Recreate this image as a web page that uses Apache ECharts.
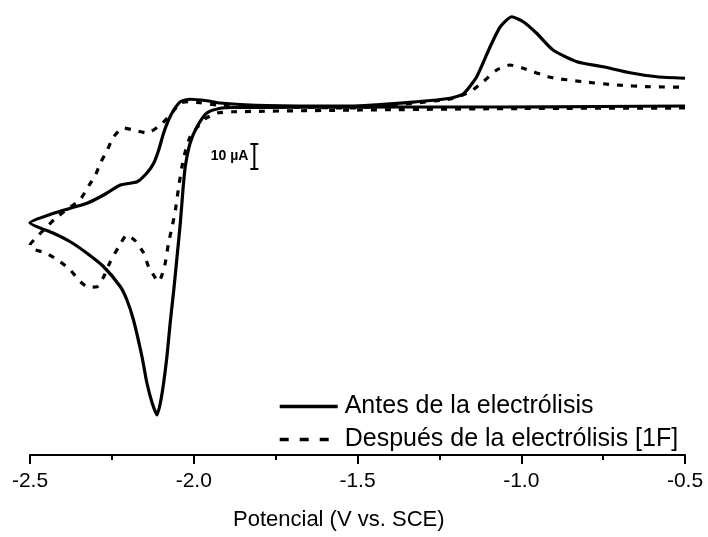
<!DOCTYPE html>
<html>
<head>
<meta charset="utf-8">
<script src="https://cdn.jsdelivr.net/npm/echarts@6/dist/echarts.min.js"></script>
<style>
html,body{margin:0;padding:0;background:#fff;}
#c{width:708px;height:537px;}
</style>
</head>
<body>
<div id="c"></div>
<script>
// Potential (V vs. SCE) and current (µA, 0 = baseline), in sweep order
const antesV = [-0.5,-0.76,-1.065,-1.37,-1.675,-1.879,-1.919,-1.96,-1.99,-2.011,-2.026,-2.033,-2.041,-2.051,-2.061,-2.072,-2.082,-2.092,-2.102,-2.112,-2.127,-2.143,-2.158,-2.184,-2.204,-2.224,-2.275,-2.326,-2.377,-2.428,-2.5,
  -2.428,-2.377,-2.326,-2.275,-2.224,-2.173,-2.143,-2.122,-2.107,-2.092,-2.077,-2.061,-2.041,-2.011,-1.96,-1.919,-1.776,-1.522,-1.319,-1.217,-1.177,-1.136,-1.095,-1.064,-1.029,-0.994,-0.953,-0.903,-0.83,-0.75,-0.668,-0.586,-0.5];
const antesI = [-0.4,-0.6,-0.8,-0.8,-0.9,-1.0,-1.3,-3.2,-8.7,-15.2,-24.7,-34,-47.2,-60.7,-74,-87.2,-100.7,-111.2,-119.2,-124,-119.2,-111.2,-100.7,-86,-78,-72.7,-64.7,-59.3,-54.7,-51.3,-47.1,
  -43.3,-41.3,-39.3,-36,-32,-30.7,-27.2,-23.2,-18,-11.2,-6,-2,1.3,2.3,1.7,0.8,-0.2,-0.4,1.3,2.7,4.4,11.3,23.3,31.3,35.3,33.3,28.7,22,17.3,15.3,12.9,11.3,10.7];

const despuesV = [-0.5,-1.0,-1.492,-1.879,-1.928,-1.965,-1.99,-2.011,-2.026,-2.036,-2.046,-2.056,-2.066,-2.077,-2.087,-2.097,-2.107,-2.117,-2.138,-2.153,-2.178,-2.204,-2.229,-2.255,-2.275,-2.295,-2.321,-2.346,-2.377,-2.412,-2.453,-2.489,-2.5,
  -2.488,-2.422,-2.382,-2.346,-2.321,-2.3,-2.285,-2.264,-2.245,-2.215,-2.184,-2.142,-2.102,-2.072,-2.041,-2.017,-1.98,-1.928,-1.522,-1.217,-1.156,-1.116,-1.075,-1.035,-0.994,-0.912,-0.811,-0.708,-0.607,-0.5];
const despuesI = [-1.2,-1.4,-2,-2.7,-3.2,-5.5,-9,-12.7,-18.7,-24.7,-32.7,-42,-48.7,-55.2,-63.2,-68,-70.7,-69.2,-64.7,-59.2,-54.4,-52,-56.7,-62.7,-68.7,-72.7,-72.9,-70.7,-66,-62.3,-59.1,-57.7,-56,
  -54,-45.3,-41.3,-37.7,-32.4,-28,-23.2,-18,-12.8,-9.2,-10,-11.2,-8,-4,0.8,1.3,0.9,0,-1.2,2.4,5.3,9.3,14,16,14.7,11.1,9.3,8,7.3,7.1];

const seriesNames = ['Antes de la electrólisis', 'Después de la electrólisis [1F]'];
const xTicks = [-2.5, -2.0, -1.5, -1.0, -0.5];
const scaleBar = {v: -1.815, from: -15.6, to: -25.6, label: '10 µA'};

const zip = (a, b) => a.map((v, i) => [v, b[i]]);

const chart = echarts.init(document.getElementById('c'));
chart.setOption({
  animation: false,
  backgroundColor: '#fff',
  grid: {left: 30, right: 23, top: 5, bottom: 82, containLabel: false},
  xAxis: {
    type: 'value', min: xTicks[0], max: xTicks[xTicks.length - 1], interval: 0.5,
    axisLine: {show: true, onZero: false, lineStyle: {color: '#000', width: 2}},
    axisTick: {show: true, inside: false, length: 9, lineStyle: {color: '#000', width: 2}},
    minorTick: {show: true, splitNumber: 2, length: 5, lineStyle: {color: '#000', width: 2}},
    axisLabel: {color: '#000', fontSize: 21, fontFamily: 'Liberation Sans, Arial', margin: 16,
      formatter: v => v.toFixed(1)},
    splitLine: {show: false}
  },
  yAxis: {type: 'value', min: -140, max: 40, show: false, splitLine: {show: false}},
  legend: {
    orient: 'vertical', left: 278, top: 394, itemGap: 8, padding: 0,
    itemWidth: 58, itemHeight: 14,
    itemStyle: {opacity: 0},
    lineStyle: {width: 3.4, color: '#000'},
    textStyle: {color: '#000', fontSize: 25, fontFamily: 'Liberation Sans, Arial', padding: [0, 0, 0, 2]},
    data: [
      {name: seriesNames[0], lineStyle: {type: 'solid'}},
      {name: seriesNames[1], lineStyle: {type: [9, 11]}}
    ]
  },
  series: [
    {name: seriesNames[0], type: 'line', data: zip(antesV, antesI), showSymbol: false, symbol: 'none',
      smooth: 0.2, lineStyle: {color: '#000', width: 3.2}, itemStyle: {color: '#000'}},
    {name: seriesNames[1], type: 'line', data: zip(despuesV, despuesI), showSymbol: false, symbol: 'none',
      smooth: 0.2, lineStyle: {color: '#000', width: 3.2, type: [6, 8]}, itemStyle: {color: '#000'}},
    {type: 'custom', silent: true, data: [[scaleBar.v, scaleBar.from, scaleBar.to]],
      renderItem: (params, api) => {
        const top = api.coord([api.value(0), api.value(1)]);
        const bot = api.coord([api.value(0), api.value(2)]);
        const st = {stroke: '#000', lineWidth: 2};
        return {type: 'group', children: [
          {type: 'line', shape: {x1: top[0], y1: top[1], x2: bot[0], y2: bot[1]}, style: st},
          {type: 'line', shape: {x1: top[0] - 4, y1: top[1], x2: top[0] + 4, y2: top[1]}, style: st},
          {type: 'line', shape: {x1: bot[0] - 4, y1: bot[1], x2: bot[0] + 4, y2: bot[1]}, style: st},
          {type: 'text', x: top[0] - 6, y: (top[1] + bot[1]) / 2,
            style: {text: scaleBar.label, fill: '#000', font: 'bold 14px Liberation Sans, Arial',
              align: 'right', verticalAlign: 'middle'}}
        ]};
      }}
  ],
  graphic: [{type: 'text', left: 233, top: 509,
    style: {text: 'Potencial (V vs. SCE)', fill: '#000', font: '22px Liberation Sans, Arial'}}]
});
</script>
</body>
</html>
